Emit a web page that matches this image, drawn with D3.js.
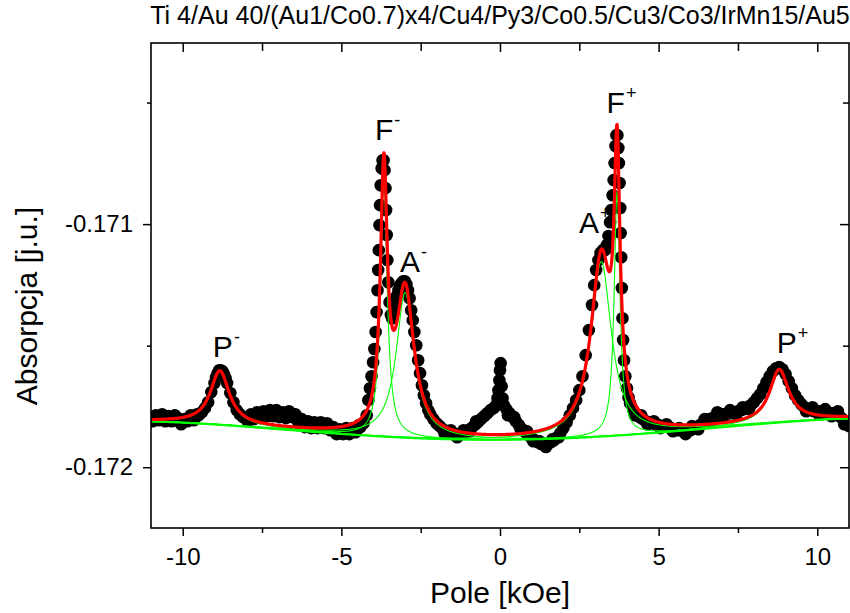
<!DOCTYPE html>
<html>
<head>
<meta charset="utf-8">
<script src="https://cdn.jsdelivr.net/npm/d3@7"></script>
<style>
  body { margin: 0; background: #fff; }
  svg { display: block; font-family: "Liberation Sans", Arial, sans-serif; }
</style>
</head>
<body>
<svg id="chart" width="850" height="613"></svg>
<script>
// Measured FMR absorption vs. applied field
const fieldKOe = [
  -11.0, -10.9, -10.8, -10.7, -10.6, -10.5, -10.4, -10.3, -10.2, -10.1, -10.0, -9.9, -9.8, -9.7, -9.6, -9.5,
  -9.4, -9.3, -9.2, -9.1, -9.0, -8.95, -8.9, -8.85, -8.8, -8.75, -8.7, -8.65, -8.6, -8.5, -8.4, -8.3, -8.2, -8.1,
  -8.0, -7.9, -7.8, -7.7, -7.6, -7.5, -7.4, -7.3, -7.2, -7.1, -7.0, -6.9, -6.8, -6.7, -6.6, -6.5, -6.4, -6.3,
  -6.2, -6.1, -6.0, -5.9, -5.8, -5.7, -5.6, -5.5, -5.4, -5.3, -5.2, -5.1, -5.0, -4.9, -4.8, -4.7, -4.6, -4.5,
  -4.4, -4.3, -4.2, -4.15, -4.10, -4.05, -4.0, -3.96, -3.92, -3.89, -3.86, -3.84, -3.82, -3.80, -3.78, -3.76,
  -3.73, -3.70, -3.67, -3.64, -3.61, -3.59, -3.57, -3.55, -3.52, -3.48, -3.44, -3.40, -3.35, -3.30, -3.25,
  -3.20, -3.15, -3.10, -3.05, -3.00, -2.95, -2.90, -2.85, -2.80, -2.75, -2.70, -2.64, -2.58, -2.52, -2.46,
  -2.40, -2.33, -2.26, -2.20, -2.1, -2.0, -1.9, -1.8, -1.7, -1.6, -1.5, -1.4, -1.3, -1.2, -1.1, -1.0, -0.9,
  -0.8, -0.7, -0.6, -0.5, -0.4, -0.3, -0.2, -0.12, -0.08, -0.05, -0.02, 0.0, 0.02, 0.05, 0.08, 0.12, 0.2,
  0.3, 0.4, 0.5, 0.6, 0.7, 0.8, 0.9, 1.0, 1.1, 1.2, 1.3, 1.4, 1.5, 1.6, 1.7, 1.8, 1.9, 2.0, 2.1, 2.2, 2.3,
  2.4, 2.5, 2.6, 2.7, 2.8, 2.9, 2.97, 3.03, 3.1, 3.17, 3.24, 3.31, 3.37, 3.42, 3.47, 3.51, 3.55, 3.58, 3.61,
  3.64, 3.67, 3.70, 3.73, 3.75, 3.77, 3.79, 3.805, 3.82, 3.84, 3.86, 3.88, 3.91, 3.95, 4.0, 4.05, 4.1, 4.2,
  4.3, 4.4, 4.5, 4.6, 4.7, 4.8, 4.9, 5.0, 5.1, 5.2, 5.3, 5.4, 5.5, 5.6, 5.7, 5.8, 5.9, 6.0, 6.1, 6.2, 6.3,
  6.4, 6.5, 6.6, 6.7, 6.8, 6.9, 7.0, 7.1, 7.2, 7.3, 7.4, 7.5, 7.6, 7.7, 7.8, 7.9, 8.0, 8.1, 8.2, 8.3, 8.4,
  8.5, 8.6, 8.7, 8.8, 8.9, 9.0, 9.1, 9.2, 9.3, 9.4, 9.5, 9.6, 9.7, 9.8, 9.9, 10.0, 10.1, 10.2, 10.3, 10.4,
  10.5, 10.6, 10.7, 10.8, 10.9, 11.0
];
const absorption = [
  -0.171802, -0.171798, -0.171794, -0.171798, -0.171790, -0.171798, -0.171802, -0.171798, -0.171794, -0.171802,
  -0.171815, -0.171807, -0.171798, -0.171798, -0.171794, -0.171786,
  -0.171774, -0.171757, -0.171733, -0.171691, -0.171654, -0.171630, -0.171613, -0.171601, -0.171601, -0.171605,
  -0.171617, -0.171634, -0.171654, -0.171695, -0.171733, -0.171765, -0.171782, -0.171794,
  -0.171798, -0.171798, -0.171794, -0.171790, -0.171786, -0.171786, -0.171782, -0.171778, -0.171782, -0.171778,
  -0.171774, -0.171782, -0.171790, -0.171786, -0.171778, -0.171782, -0.171794, -0.171807,
  -0.171815, -0.171823, -0.171827, -0.171827, -0.171823, -0.171831, -0.171827, -0.171823, -0.171831, -0.171839,
  -0.171848, -0.171852, -0.171856, -0.171852, -0.171856, -0.171852, -0.171848, -0.171844,
  -0.171835, -0.171819, -0.171786, -0.171724, -0.171675, -0.171626, -0.171568, -0.171514, -0.171444, -0.171362,
  -0.171272, -0.171189, -0.171107, -0.171004, -0.170922, -0.170840,
  -0.170770, -0.170737, -0.170737, -0.170778, -0.170852, -0.170942, -0.171045, -0.171148, -0.171239, -0.171321,
  -0.171374, -0.171387, -0.171362, -0.171333, -0.171296,
  -0.171272, -0.171251, -0.171243, -0.171235, -0.171235, -0.171247, -0.171272, -0.171305, -0.171354, -0.171395,
  -0.171444, -0.171498, -0.171560, -0.171613, -0.171663,
  -0.171704, -0.171737, -0.171765, -0.171782, -0.171802, -0.171819, -0.171831, -0.171844, -0.171852, -0.171856,
  -0.171864, -0.171868, -0.171864, -0.171860, -0.171856, -0.171848, -0.171839,
  -0.171827, -0.171815, -0.171802, -0.171790, -0.171778, -0.171765, -0.171757, -0.171745, -0.171716, -0.171683,
  -0.171642, -0.171601, -0.171572, -0.171667, -0.171716, -0.171745, -0.171761,
  -0.171778, -0.171794, -0.171811, -0.171827, -0.171844, -0.171856, -0.171868, -0.171881, -0.171889, -0.171897,
  -0.171905, -0.171909, -0.171905, -0.171897, -0.171889, -0.171877, -0.171860, -0.171839, -0.171815, -0.171786,
  -0.171757,
  -0.171724, -0.171683, -0.171626, -0.171539, -0.171436, -0.171333, -0.171251, -0.171189, -0.171148, -0.171119,
  -0.171107, -0.171107, -0.171086, -0.171049, -0.170992, -0.170942, -0.170881, -0.170819, -0.170749,
  -0.170679, -0.170634, -0.170634, -0.170687, -0.170749, -0.170831, -0.170934, -0.171037, -0.171136, -0.171263,
  -0.171387, -0.171477, -0.171560, -0.171626, -0.171675, -0.171712, -0.171737, -0.171765,
  -0.171782, -0.171794, -0.171802, -0.171811, -0.171815, -0.171819, -0.171823, -0.171827, -0.171831, -0.171831,
  -0.171835, -0.171839, -0.171844, -0.171848, -0.171848, -0.171852, -0.171852, -0.171848, -0.171839, -0.171835,
  -0.171827,
  -0.171819, -0.171811, -0.171802, -0.171798, -0.171790, -0.171786, -0.171782, -0.171782, -0.171778, -0.171778,
  -0.171774, -0.171770, -0.171765, -0.171761, -0.171753, -0.171745, -0.171733, -0.171716, -0.171700, -0.171675,
  -0.171650,
  -0.171626, -0.171605, -0.171593, -0.171588, -0.171597, -0.171617, -0.171646, -0.171675, -0.171704, -0.171724,
  -0.171741, -0.171753, -0.171761, -0.171765, -0.171770, -0.171770, -0.171770, -0.171774, -0.171774, -0.171778,
  -0.171778, -0.171782, -0.171790, -0.171802, -0.171819, -0.171831
];

// Intermediate sweep points in the slowly varying stretches
const fieldKOeMid = [
  -10.95, -10.85, -10.75, -10.65, -10.55, -10.45, -10.35, -10.25, -10.15, -10.05, -9.95, -9.85, -9.75, -9.65, -9.55,
  -7.95, -7.85, -7.75, -7.65, -7.55, -7.45, -7.35, -7.25, -7.15, -7.05, -6.95, -6.85, -6.75, -6.65, -6.55, -6.45,
  -6.35, -6.25, -6.15, -6.05, -5.95, -5.85, -5.75, -5.65, -5.55, -5.45, -5.35, -5.25, -5.15, -5.05, -4.95, -4.85,
  -4.75, -4.65, -4.55, -4.45,
  -1.75, -1.55, -1.35, -1.15, -0.95, -0.75,
  0.25, 0.45, 0.65, 0.85, 1.05, 1.25, 1.45, 1.65, 1.85,
  4.25, 4.45, 4.65, 4.85, 5.05, 5.25, 5.45, 5.65, 5.85, 6.05, 6.25, 6.45, 6.65, 6.85, 7.05, 7.25, 7.45, 7.65, 7.85,
  9.65, 9.85, 10.05, 10.25, 10.45, 10.65, 10.85
];
const absorptionMid = [
  -0.171811, -0.171786, -0.171807, -0.171782, -0.171811, -0.171790, -0.171811, -0.171786, -0.171807, -0.171823,
  -0.171802, -0.171811, -0.171786, -0.171807, -0.171782,
  -0.171811, -0.171782, -0.171802, -0.171774, -0.171798, -0.171770, -0.171790, -0.171765, -0.171790, -0.171765,
  -0.171794, -0.171774, -0.171798, -0.171770, -0.171794, -0.171782,
  -0.171819, -0.171802, -0.171835, -0.171811, -0.171839, -0.171815, -0.171839, -0.171815, -0.171839, -0.171819,
  -0.171848, -0.171835, -0.171864, -0.171844, -0.171864, -0.171839,
  -0.171864, -0.171839, -0.171856, -0.171827,
  -0.171860, -0.171848, -0.171877, -0.171848, -0.171852, -0.171811,
  -0.171786, -0.171794, -0.171844, -0.171852, -0.171893, -0.171893, -0.171917, -0.171885, -0.171877,
  -0.171786, -0.171786, -0.171823, -0.171811, -0.171839, -0.171823, -0.171852, -0.171839, -0.171864, -0.171831,
  -0.171844, -0.171802, -0.171811, -0.171774, -0.171794, -0.171765, -0.171782, -0.171753, -0.171761,
  -0.171770, -0.171753, -0.171782, -0.171761, -0.171790, -0.171770, -0.171823
];

// Lorentzian fit: six resonance lines on a smooth background
const peakName   = ["P", "F", "A", "A", "F", "P"];
const peakSign   = ["-", "-", "-", "+", "+", "+"];
const peakCenter = [-8.83, -3.66, -2.99, 3.19, 3.69, 8.80];        // kOe
const peakHeight = [0.000219, 0.001041, 0.000597, 0.000720, 0.001004, 0.000214];
const peakHalfWidth = [0.36, 0.129, 0.34, 0.39, 0.11, 0.36];        // kOe (HWHM)
const baselineCoef = [-0.171887, 5.6e-7, 1.18e-6, 0, -4.2e-9];      // polynomial in field

// Peak annotation anchors (field, absorption)
const labelField = [-9.05, -3.94, -3.15, 2.49, 3.36, 8.72];
const labelAbs   = [-0.171546, -0.170654, -0.171196, -0.171037, -0.170544, -0.171532];

const xMajorTicks = [-10, -5, 0, 5, 10];
const xMinorTicks = [-7.5, -2.5, 2.5, 7.5];
const yMajorTicks = [-0.171, -0.172];
const yMinorTicks = [-0.1705, -0.1715];

const titleText = "Ti 4/Au 40/(Au1/Co0.7)x4/Cu4/Py3/Co0.5/Cu3/Co3/IrMn15/Au5";
const xTitle = "Pole [kOe]";
const yTitle = "Absorpcja [j.u.]";

const svg = d3.select("#chart");
const plot = { left: 151, right: 849, top: 43, bottom: 528 };

const x = d3.scaleLinear().domain([-11, 11]).range([plot.left, plot.right]);
const y = d3.scaleLinear().domain([-0.17225, -0.170255]).range([plot.bottom, plot.top]);

const baseline = f => baselineCoef.reduce((s, c, i) => s + c * Math.pow(f, i), 0);
const lorentz = (f, i) => peakHeight[i] / (1 + Math.pow((f - peakCenter[i]) / peakHalfWidth[i], 2));

svg.append("defs").append("clipPath").attr("id", "plotClip")
  .append("rect")
  .attr("x", plot.left).attr("y", plot.top)
  .attr("width", plot.right - plot.left).attr("height", plot.bottom - plot.top);

const layer = svg.append("g").attr("clip-path", "url(#plotClip)");

// measured points
const pts = fieldKOe.map((f, i) => [f, absorption[i]])
  .concat(fieldKOeMid.map((f, i) => [f, absorptionMid[i]]));
layer.append("g").selectAll("circle").data(pts).join("circle")
  .attr("cx", d => x(d[0])).attr("cy", d => y(d[1])).attr("r", 6.3)
  .attr("fill", "#000");

// fit curves evaluated on a fine field grid
const grid = d3.range(-11, 11.0001, 0.01);
const line = d3.line().x(d => x(d[0])).y(d => y(d[1]));

// individual components
peakCenter.forEach((c, i) => {
  layer.append("path")
    .attr("d", line(grid.map(f => [f, baseline(f) + lorentz(f, i)])))
    .attr("fill", "none").attr("stroke", "#00ff00").attr("stroke-width", 1.1);
});
// background
layer.append("path")
  .attr("d", line(grid.map(f => [f, baseline(f)])))
  .attr("fill", "none").attr("stroke", "#00ff00").attr("stroke-width", 2.2);

// total fit
layer.append("path")
  .attr("d", line(grid.map(f => [f, baseline(f) + peakCenter.reduce((s, c, i) => s + lorentz(f, i), 0)])))
  .attr("fill", "none").attr("stroke", "#ff0000").attr("stroke-width", 3.2)
  .attr("stroke-linejoin", "round");

// peak annotations
peakName.forEach((n, i) => {
  const t = svg.append("text")
    .attr("x", x(labelField[i])).attr("y", y(labelAbs[i]))
    .attr("font-size", 30).attr("fill", "#000");
  t.append("tspan").text(n);
  t.append("tspan").attr("font-size", 18).attr("dy", -14).attr("dx", 1).text(peakSign[i]);
});

// axes
const fmt = v => String(v);
const styleAxis = g => {
  g.select(".domain").remove();
  g.selectAll(".tick line").attr("stroke", "#000").attr("stroke-width", 1.5);
  g.selectAll(".tick text").attr("font-size", 24).attr("fill", "#000")
    .attr("font-family", "'Liberation Sans', Arial, sans-serif");
};

svg.append("g").attr("transform", `translate(0,${plot.bottom})`)
  .call(d3.axisBottom(x).tickValues(xMajorTicks).tickFormat(fmt).tickSize(8).tickPadding(12)).call(styleAxis);
svg.append("g").attr("transform", `translate(0,${plot.bottom})`)
  .call(d3.axisBottom(x).tickValues(xMinorTicks).tickFormat("").tickSize(5)).call(styleAxis);
svg.append("g").attr("transform", `translate(0,${plot.top})`)
  .call(d3.axisTop(x).tickValues(xMajorTicks).tickFormat("").tickSize(-9)).call(styleAxis);
svg.append("g").attr("transform", `translate(0,${plot.top})`)
  .call(d3.axisTop(x).tickValues(xMinorTicks).tickFormat("").tickSize(-8)).call(styleAxis);

svg.append("g").attr("transform", `translate(${plot.left},0)`)
  .call(d3.axisLeft(y).tickValues(yMajorTicks).tickFormat(fmt).tickSize(8).tickPadding(10)).call(styleAxis);
svg.append("g").attr("transform", `translate(${plot.left},0)`)
  .call(d3.axisLeft(y).tickValues(yMinorTicks).tickFormat("").tickSize(4)).call(styleAxis);
svg.append("g").attr("transform", `translate(${plot.right},0)`)
  .call(d3.axisRight(y).tickValues(yMajorTicks).tickFormat("").tickSize(-9)).call(styleAxis);
svg.append("g").attr("transform", `translate(${plot.right},0)`)
  .call(d3.axisRight(y).tickValues(yMinorTicks).tickFormat("").tickSize(-6)).call(styleAxis);

// frame
svg.append("rect")
  .attr("x", plot.left).attr("y", plot.top)
  .attr("width", plot.right - plot.left).attr("height", plot.bottom - plot.top)
  .attr("fill", "none").attr("stroke", "#000").attr("stroke-width", 1.6);

// titles
svg.append("text").attr("x", (plot.left + plot.right) / 2).attr("y", 24)
  .attr("text-anchor", "middle").attr("font-size", 25).attr("fill", "#000").text(titleText);
svg.append("text").attr("x", (plot.left + plot.right) / 2).attr("y", 603)
  .attr("text-anchor", "middle").attr("font-size", 30).attr("fill", "#000").text(xTitle);
svg.append("text").attr("transform", "translate(37,306) rotate(-90)")
  .attr("text-anchor", "middle").attr("font-size", 30).attr("fill", "#000").text(yTitle);
</script>
</body>
</html>
